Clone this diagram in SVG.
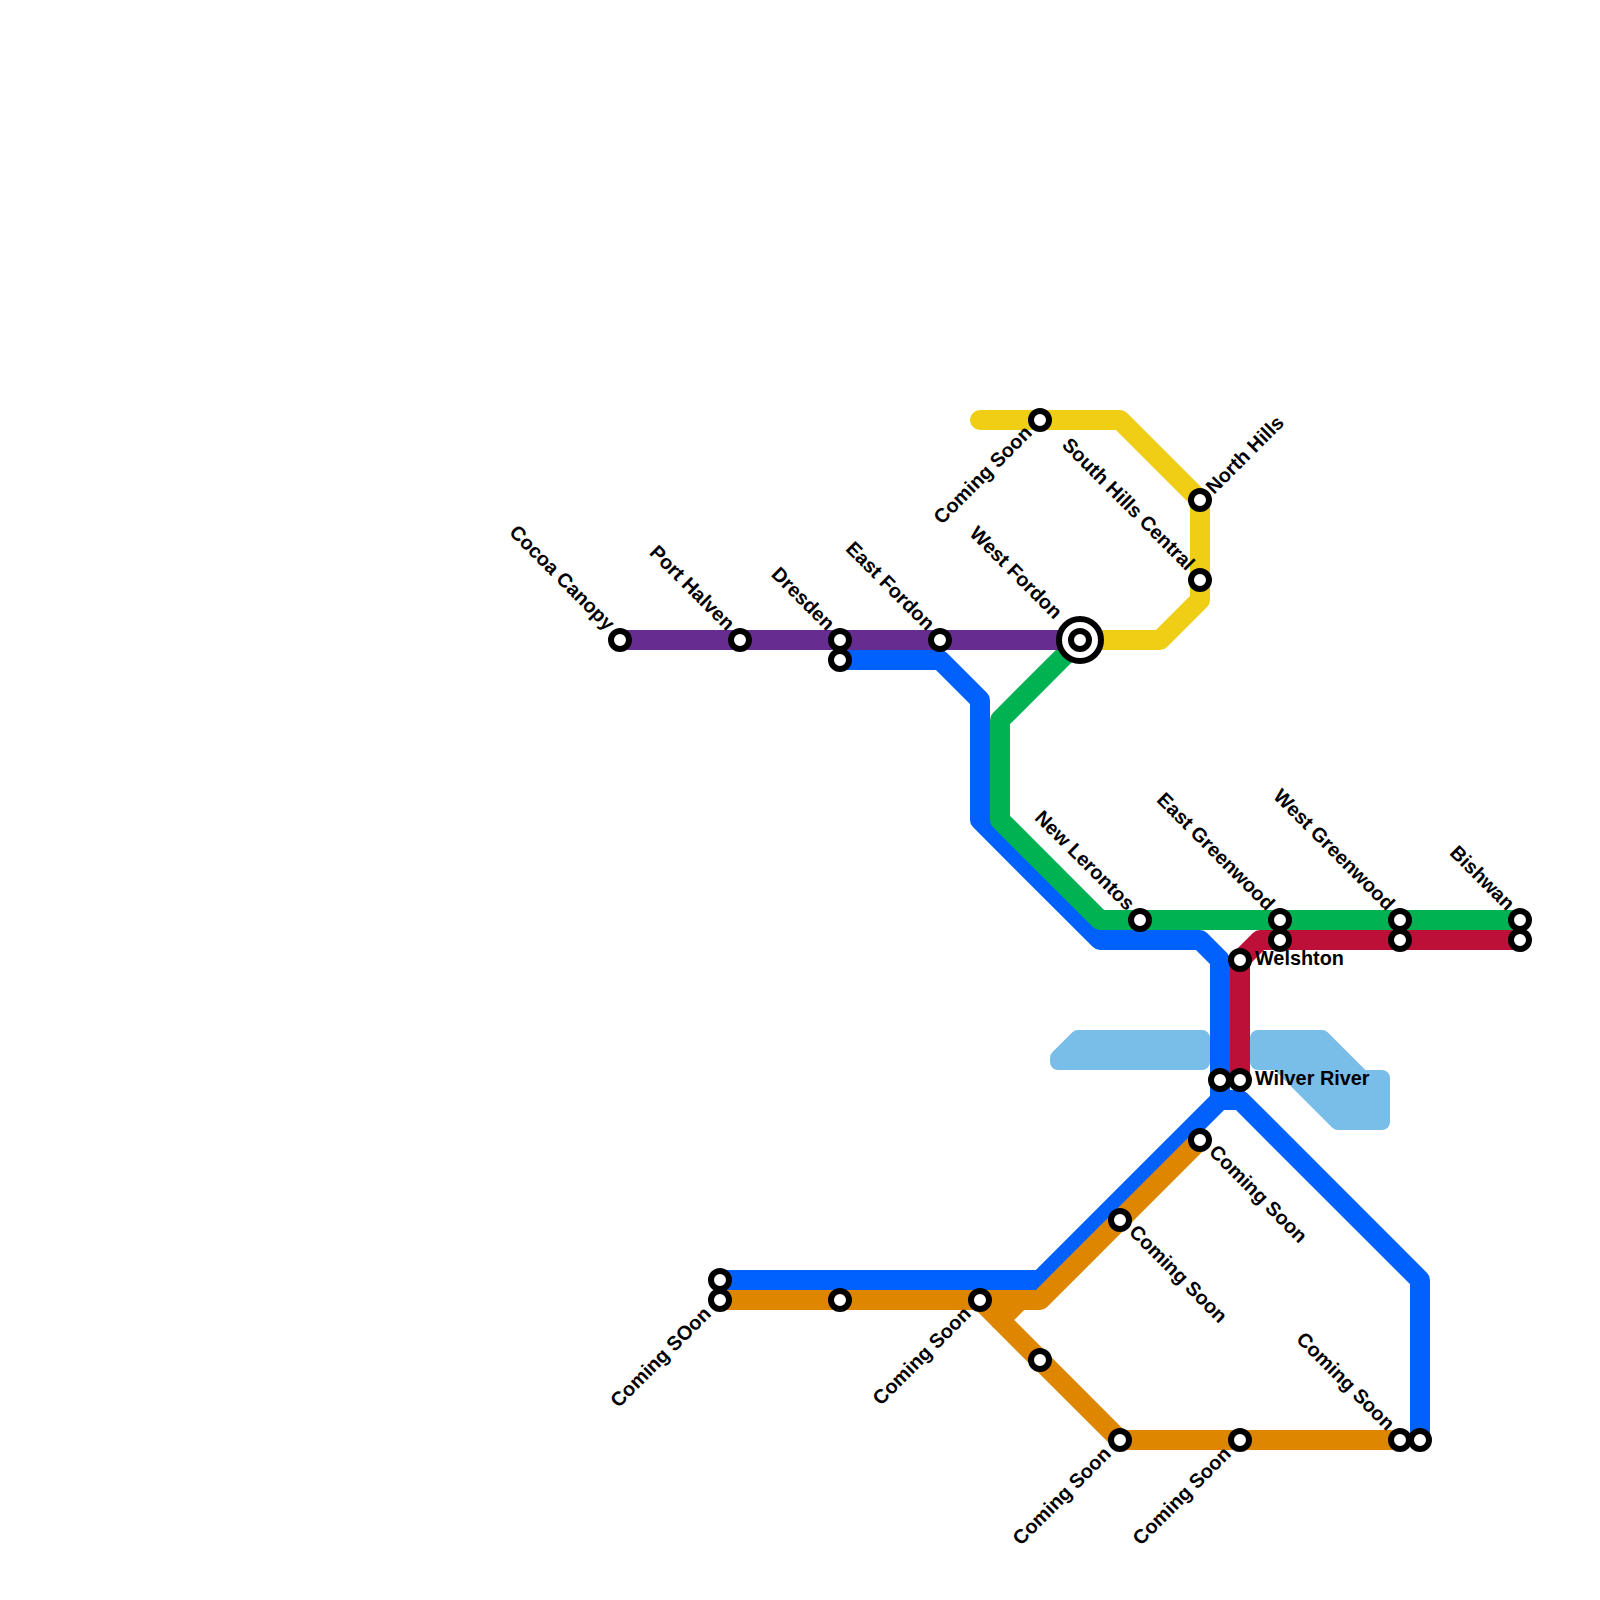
<svg xmlns="http://www.w3.org/2000/svg" width="1600" height="1600" viewBox="0 0 1600 1600">
<defs><style>
.ln{fill:none;stroke-width:20;stroke-linejoin:round;stroke-linecap:round}
.st{fill:#fff;stroke:#000;stroke-width:6}
.lb{font-family:"Liberation Sans",Arial,sans-serif;font-size:19.85px;font-weight:700;fill:#000}
.end{text-anchor:end}
.wt{fill:#79bde9;stroke:#79bde9;stroke-width:16;stroke-linejoin:round}
</style></defs>
<rect width="1600" height="1600" fill="#fff"/>
<g id="water">
<path class="wt" d="M1058 1062H1202V1038H1078L1058 1058Z"/>
<path class="wt" d="M1258 1038H1322L1362 1078H1382V1122H1338L1278 1062H1258Z"/>
</g>
<g id="connectors">
<path class="ln" stroke="#0061ff" d="M840 660H940L980 700V820L1100 940H1200L1220 960V1100"/>
<path class="ln" stroke="#0061ff" d="M720 1280H1040L1220 1100H1240L1420 1280V1440"/>
<path class="ln" stroke="#00b251" d="M1080 640L1000 720V820L1100 920H1520"/>
<path class="ln" stroke="#bd1038" d="M1520 940H1260L1240 960V1080"/>
<path class="ln" stroke="#662c90" d="M620 640H1080"/>
<path class="ln" stroke="#f0ce15" d="M980 420H1120L1200 500V600L1160 640H1080"/>
<path class="ln" stroke="#df8600" d="M720 1300H1040L1200 1140"/>
<path class="ln" stroke="#df8600" d="M1020 1300L1000 1320"/>
<path class="ln" stroke="#df8600" d="M980 1300L1120 1440H1400"/>
</g>
<g id="st-cocoa-canopy"><circle class="st" cx="620" cy="640" r="9"/><text class="lb end" transform="translate(606.500 631.500) rotate(45)">Cocoa Canopy</text></g>
<g id="st-port-halven"><circle class="st" cx="740" cy="640" r="9"/><text class="lb end" transform="translate(726.500 631.500) rotate(45)">Port Halven</text></g>
<g id="st-dresden"><circle class="st" cx="840" cy="640" r="9"/><text class="lb end" transform="translate(826.500 631.500) rotate(45)">Dresden</text></g>
<g id="st-dresden-2"><circle class="st" cx="840" cy="660" r="9"/></g>
<g id="st-east-fordon"><circle class="st" cx="940" cy="640" r="9"/><text class="lb end" transform="translate(926.500 631.500) rotate(45)">East Fordon</text></g>
<g id="st-west-fordon"><circle class="st" cx="1080" cy="640" r="21"/><circle class="st" cx="1080" cy="640" r="9"/><text class="lb end" transform="translate(1054 620) rotate(45)">West Fordon</text></g>
<g id="st-coming-soon-top"><circle class="st" cx="1040" cy="420" r="9"/><text class="lb end" transform="translate(1033 434) rotate(-45)">Coming Soon</text></g>
<g id="st-north-hills"><circle class="st" cx="1200" cy="500" r="9"/><text class="lb" transform="translate(1214 495) rotate(-45)">North Hills</text></g>
<g id="st-south-hills"><circle class="st" cx="1200" cy="580" r="9"/><text class="lb end" transform="translate(1186.500 571.500) rotate(45)">South Hills Central</text></g>
<g id="st-new-lerontos"><circle class="st" cx="1140" cy="920" r="9"/><text class="lb end" transform="translate(1126.500 911.500) rotate(45)">New Lerontos</text></g>
<g id="st-east-greenwood"><circle class="st" cx="1280" cy="920" r="9"/><text class="lb end" transform="translate(1266.500 911.500) rotate(45)">East Greenwood</text></g>
<g id="st-east-greenwood-2"><circle class="st" cx="1280" cy="940" r="9"/></g>
<g id="st-west-greenwood"><circle class="st" cx="1400" cy="920" r="9"/><text class="lb end" transform="translate(1386.500 911.500) rotate(45)">West Greenwood</text></g>
<g id="st-west-greenwood-2"><circle class="st" cx="1400" cy="940" r="9"/></g>
<g id="st-bishwan"><circle class="st" cx="1520" cy="920" r="9"/><text class="lb end" transform="translate(1506.500 911.500) rotate(45)">Bishwan</text></g>
<g id="st-bishwan-2"><circle class="st" cx="1520" cy="940" r="9"/></g>
<g id="st-welshton"><circle class="st" cx="1240" cy="960" r="9"/><text class="lb" x="1255" y="965">Welshton</text></g>
<g id="st-wilver-west"><circle class="st" cx="1220" cy="1080" r="9"/></g>
<g id="st-wilver-river"><circle class="st" cx="1240" cy="1080" r="9"/><text class="lb" x="1255" y="1085">Wilver River</text></g>
<g id="st-coming-soon-a"><circle class="st" cx="1200" cy="1140" r="9"/><text class="lb" transform="translate(1208 1153) rotate(45)">Coming Soon</text></g>
<g id="st-coming-soon-b"><circle class="st" cx="1120" cy="1220" r="9"/><text class="lb" transform="translate(1128 1233) rotate(45)">Coming Soon</text></g>
<g id="st-blue-west"><circle class="st" cx="720" cy="1280" r="9"/></g>
<g id="st-coming-soon-c"><circle class="st" cx="720" cy="1300" r="9"/><text class="lb end" transform="translate(712 1315) rotate(-45)">Coming SOon</text></g>
<g id="st-orange-840"><circle class="st" cx="840" cy="1300" r="9"/></g>
<g id="st-coming-soon-d"><circle class="st" cx="980" cy="1300" r="9"/><text class="lb end" transform="translate(972 1315) rotate(-45)">Coming Soon</text></g>
<g id="st-orange-1040"><circle class="st" cx="1040" cy="1360" r="9"/></g>
<g id="st-coming-soon-e"><circle class="st" cx="1120" cy="1440" r="9"/><text class="lb end" transform="translate(1112 1455) rotate(-45)">Coming Soon</text></g>
<g id="st-coming-soon-f"><circle class="st" cx="1240" cy="1440" r="9"/><text class="lb end" transform="translate(1232 1455) rotate(-45)">Coming Soon</text></g>
<g id="st-coming-soon-g"><circle class="st" cx="1400" cy="1440" r="9"/><text class="lb end" transform="translate(1386.500 1431.500) rotate(45)">Coming Soon</text></g>
<g id="st-blue-east"><circle class="st" cx="1420" cy="1440" r="9"/></g>
</svg>
